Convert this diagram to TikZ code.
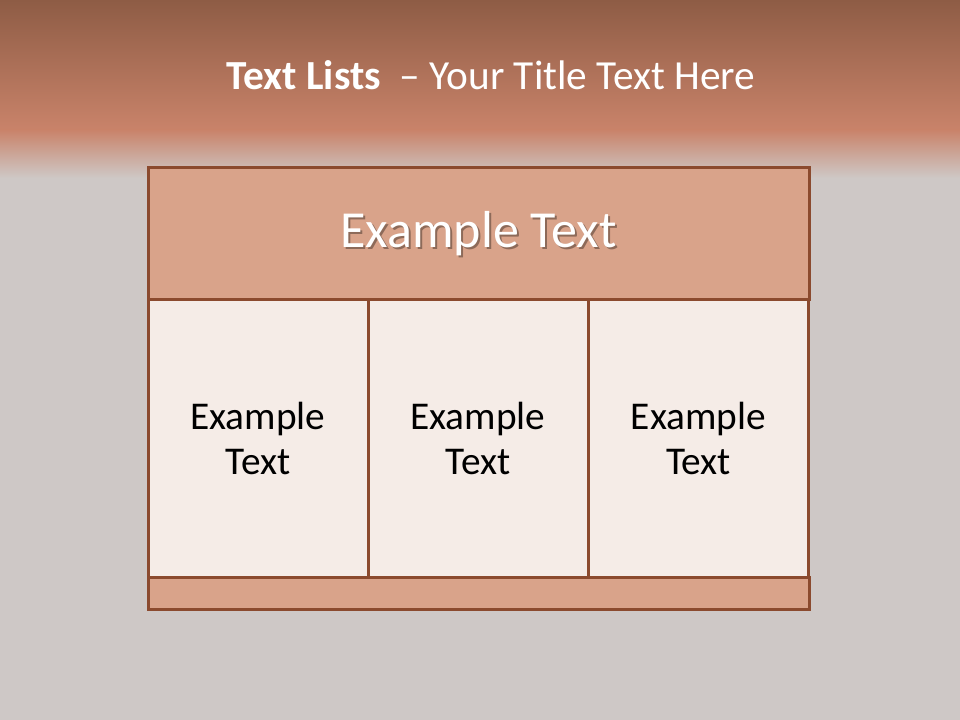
\documentclass[tikz,border=0pt]{standalone}
\usepackage{fontspec}
\setmainfont{Carlito}
\usetikzlibrary{positioning}

\definecolor{rim}{HTML}{8B4A2E}
\definecolor{headfill}{HTML}{D9A38A}
\definecolor{cellfill}{HTML}{F5ECE7}
\definecolor{bandtop}{HTML}{8E5C45}
\definecolor{bandlow}{HTML}{C9836A}
\definecolor{slide}{HTML}{CEC8C6}

\tikzset{
  headbox/.style={draw=rim, line width=2.25pt, fill=headfill, minimum width=495.75pt, inner sep=0pt},
  cellbox/.style={draw=rim, line width=2.25pt, fill=cellfill, minimum width=165pt, minimum height=207.75pt,
    inner sep=0pt, align=center, font=\fontsize{29.5}{33.75}\selectfont},
}

\begin{document}
\begin{tikzpicture}[x=0.75pt,y=-0.75pt]

% background
\useasboundingbox (0,0) rectangle (960,720);
\fill[slide] (0,0) rectangle (960,720);
\shade[top color=bandtop, bottom color=bandlow] (0,0) rectangle (960,130);
\shade[top color=bandlow, bottom color=slide] (0,130) rectangle (960,178);

% title
\node[text=white, font=\fontsize{31}{37}\selectfont] (title) at (491,75)
  {\textbf{Text Lists}\ \ – Your Title Text Here};

% header
\node[headbox, minimum height=99pt] (head) at (478.5,234) {};
\node[text=black, opacity=0.35, font=\fontsize{39}{47}\selectfont] (headshadow) at (480.5,236) {Example Text};
\node[text=white, font=\fontsize{39}{47}\selectfont] (headtext) at (478.5,234) {Example Text};

% three cells
\foreach \name/\x in {left/258, mid/478, right/698.5}
{
\node[cellbox] (\name) at (\x,438.5) {Example\\Text};
}

% footer strip
\node[headbox, minimum height=24pt] (foot) at (478.5,593) {};

\end{tikzpicture}
\end{document}
